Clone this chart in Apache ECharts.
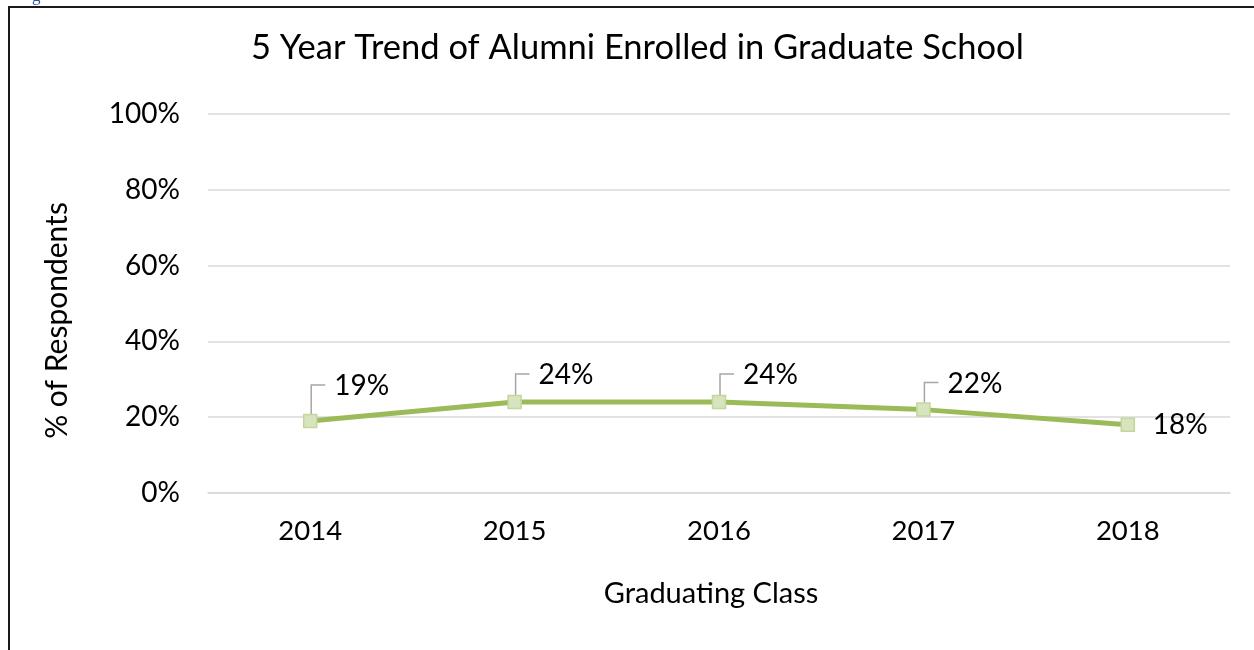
<!DOCTYPE html>
<html>
<head>
<meta charset="utf-8">
<script src="https://cdn.jsdelivr.net/npm/echarts@6/dist/echarts.min.js"></script>
<style>
  html, body { margin: 0; padding: 0; background: #fff; }
  #wrap { position: relative; width: 1254px; height: 650px; overflow: hidden; }
  #chart { position: absolute; left: 0; top: 0; width: 1254px; height: 650px; }
  #frame { position: absolute; left: 8px; top: 6px; width: 1300px; height: 700px;
           border-left: 2px solid #1a1a1a; border-top: 2px solid #1a1a1a; pointer-events: none; }
  #cap { position: absolute; left: 32px; top: -14px; font-family: 'Liberation Serif', serif;
         font-size: 17px; color: #2F5496; }
</style>
</head>
<body>
<div id="wrap">
  <div id="chart"></div>
  <div id="frame"></div>
  <div id="cap">g</div>
</div>
<script>
// ---- data ----
const titleText = '5 Year Trend of Alumni Enrolled in Graduate School';
const categories = ['2014', '2015', '2016', '2017', '2018'];
const values = [19, 24, 24, 22, 18];
const xAxisTitle = 'Graduating Class';
const yAxisTitle = '% of Respondents';

// ---- label layout (manual placement like the original) ----
const labelDx = [24, 24, 24, 24, 25];
const labelDy = [-35, -27, -27, -26, 0];
const hasLeader = [true, true, true, true, false];

const FONT = 'Lato';
const chart = echarts.init(document.getElementById('chart'), null, { renderer: 'canvas' });

const lineData = values.map((v, i) => ({
  value: v,
  label: { offset: [labelDx[i], labelDy[i]] }
}));

chart.setOption({
  animation: false,
  backgroundColor: 'transparent',
  title: {
    text: titleText,
    left: 246,
    top: 25,
    textStyle: { fontFamily: FONT, fontSize: 34.5, fontWeight: 'normal', color: '#000' }
  },
  grid: { left: 208, right: 24, top: 114, bottom: 157, containLabel: false },
  xAxis: {
    type: 'category',
    data: categories,
    boundaryGap: true,
    axisLine: { show: true, lineStyle: { color: '#D9D9D9', width: 1.5 } },
    axisTick: { show: false },
    axisLabel: { fontFamily: FONT, fontSize: 27.5, color: '#000', margin: 24 },
    name: xAxisTitle,
    nameLocation: 'middle',
    nameGap: 86,
    nameTextStyle: { fontFamily: FONT, fontSize: 29, color: '#000', padding: [0, 16, 0, 0] }
  },
  yAxis: {
    type: 'value',
    min: 0,
    max: 100,
    interval: 20,
    axisLine: { show: false },
    axisTick: { show: false },
    splitLine: { lineStyle: { color: '#D9D9D9', width: 1.5 } },
    axisLabel: { fontFamily: FONT, fontSize: 28, color: '#000', margin: 28, formatter: '{value}%' },
    name: yAxisTitle,
    nameLocation: 'middle',
    nameGap: 136,
    nameRotate: 90,
    nameTextStyle: { fontFamily: FONT, fontSize: 30, color: '#000', padding: [0, 34, 0, 0] }
  },
  series: [
    {
      type: 'custom',
      z: 1,
      silent: true,
      data: values.map((v, i) => [i, v]),
      renderItem: function (params, api) {
        const i = params.dataIndex;
        if (!hasLeader[i]) return null;
        const p = api.coord([api.value(0), api.value(1)]);
        return {
          type: 'polyline',
          shape: { points: [[p[0] + 1, p[1] - 7], [p[0] + 1, p[1] + labelDy[i] - 1], [p[0] + 15, p[1] + labelDy[i] - 1]] },
          style: { stroke: '#A6A6A6', lineWidth: 1.5, fill: null }
        };
      }
    },
    {
      type: 'line',
      z: 3,
      data: lineData,
      symbol: 'rect',
      symbolSize: 13,
      lineStyle: { color: '#9BBB59', width: 5 },
      itemStyle: { color: '#D7E4BD', borderColor: '#C3D69B', borderWidth: 1.5 },
      label: {
        show: true,
        position: 'inside',
        align: 'left',
        verticalAlign: 'middle',
        formatter: '{c}%',
        fontFamily: FONT,
        fontSize: 28,
        color: '#000'
      }
    }
  ]
});
</script>
</body>
</html>
